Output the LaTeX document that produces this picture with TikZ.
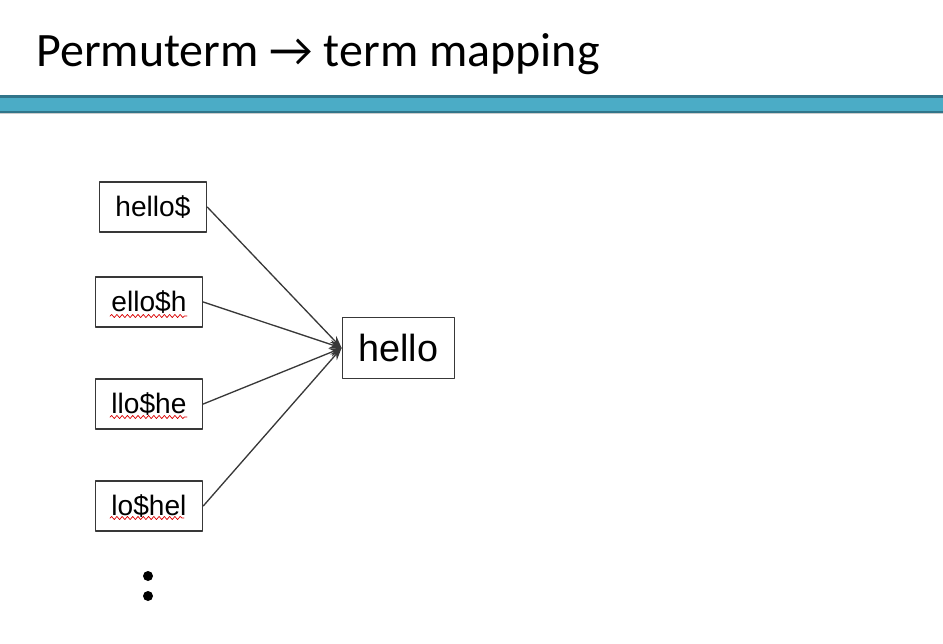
\documentclass[tikz,border=0pt]{standalone}
\usepackage{fontspec}
\setmainfont{Liberation Sans}
\newfontfamily\titlefont{Carlito}
\usetikzlibrary{decorations.pathmorphing,arrows.meta}
\definecolor{bandfill}{HTML}{4BACC6}
\definecolor{bandedge}{HTML}{31758A}
\definecolor{boxline}{HTML}{383838}
\tikzset{
  permbox/.style={draw=boxline,line width=0.75pt,minimum width=61pt,minimum height=28.5pt,inner sep=0pt,font=\fontsize{16}{18}\selectfont},
  termbox/.style={draw=boxline,line width=0.75pt,minimum width=64pt,minimum height=35pt,inner sep=0pt,font=\fontsize{21.5}{24}\selectfont},
  spell/.style={red!85!black,line width=0.4pt,decorate,decoration={snake,amplitude=0.9pt,segment length=3pt}}
}
\begin{document}
\begin{tikzpicture}[>={Stealth[length=7pt,width=5pt]},line join=round,line cap=round,x=0.02cm,y=-0.02cm]
	\useasboundingbox (0,0) rectangle (943,643);
	\node[anchor=base west,inner sep=0pt,font=\titlefont\fontsize{27.3}{30}\selectfont] (title) at (36,66) {Permuterm \textrightarrow{} term mapping};
	% band under the title
	\fill[bandedge] (0,95) rectangle (943,113);
	\fill[bandfill] (0,98) rectangle (943,111);
	\draw[black!20,line width=0.6pt] (0,113.5) -- (943,113.5);
	% permuterms
	\node[permbox] (p1) at (153,207) {hello\$};
	\node[permbox] (p2) at (149,302) {ello\$h};
	\node[permbox] (p3) at (149,404) {llo\$he};
	\node[permbox] (p4) at (149,506) {lo\$hel};
	\node[termbox] (t) at (398.5,348) {hello};
	\foreach \p in {p1,p2,p3,p4}
		\draw[->,boxline,line width=0.75pt] (\p.east) -- (t.west);
	% spelling marks
	\draw[spell] (110,316) -- (187,316);
	\draw[spell] (110,417) -- (187,417);
	\draw[spell] (110,518) -- (184,518);
	% more below
	\fill (148,576) circle (5);
	\fill (148,596) circle (5);
\end{tikzpicture}
\end{document}
